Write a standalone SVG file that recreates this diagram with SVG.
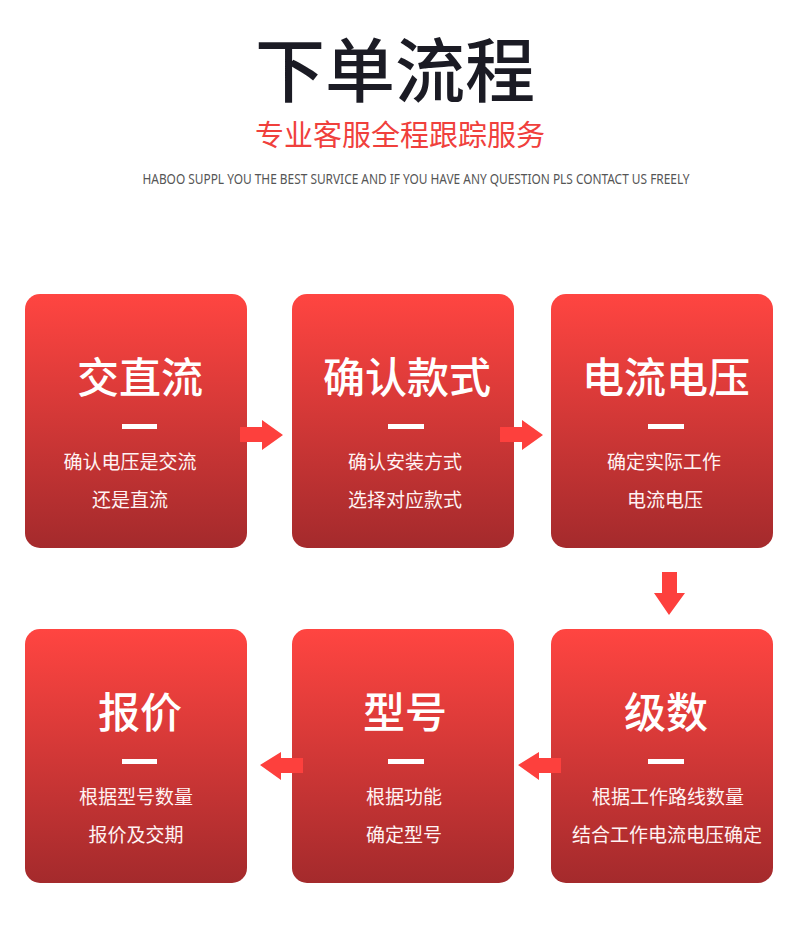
<svg xmlns="http://www.w3.org/2000/svg" width="800" height="947" viewBox="0 0 800 947">
<defs>
<linearGradient id="cardGrad" x1="0" y1="0" x2="0" y2="1">
<stop offset="0" stop-color="#ff4541"/>
<stop offset="1" stop-color="#a42a2c"/>
</linearGradient>
<style>
.card{fill:url(#cardGrad);}
.h{font-family:"Noto Sans CJK SC","Noto Sans",sans-serif;font-size:42px;font-weight:500;fill:#ffffff;text-anchor:middle;}
.s{font-family:"Noto Sans CJK SC","Noto Sans",sans-serif;font-size:19px;fill:#fff3f3;text-anchor:middle;}
.dash{fill:#ffffff;}
.arrow{fill:#fd403d;}
</style>
</defs>
<rect width="800" height="947" fill="#ffffff"/>
<g id="header">
<text x="395" y="97" font-family="'Noto Sans CJK SC',sans-serif" font-size="70" font-weight="500" fill="#1b1b24" text-anchor="middle">下单流程</text>
<text x="400" y="146" font-family="'Noto Sans CJK SC',sans-serif" font-size="29" fill="#f0403c" text-anchor="middle">专业客服全程跟踪服务</text>
<text x="416" y="184" font-family="'Noto Sans','Liberation Sans',sans-serif" font-size="14" fill="#555555" text-anchor="middle" textLength="547" lengthAdjust="spacingAndGlyphs">HABOO SUPPL YOU THE BEST SURVICE AND IF YOU HAVE ANY QUESTION PLS CONTACT US FREELY</text>
</g>
<g id="node1">
<rect class="card" x="25" y="294" width="222" height="254" rx="15"/>
<text class="h" x="140" y="393">交直流</text>
<rect class="dash" x="122" y="424" width="35" height="5"/>
<text class="s" x="130" y="469">确认电压是交流</text>
<text class="s" x="130" y="507">还是直流</text>
</g>
<g id="node2">
<rect class="card" x="292" y="294" width="222" height="254" rx="15"/>
<text class="h" x="407" y="393">确认款式</text>
<rect class="dash" x="388" y="424" width="36" height="5"/>
<text class="s" x="405" y="469">确认安装方式</text>
<text class="s" x="405" y="507">选择对应款式</text>
</g>
<g id="node3">
<rect class="card" x="551" y="294" width="222" height="254" rx="15"/>
<text class="h" x="666" y="393">电流电压</text>
<rect class="dash" x="648" y="424" width="36" height="5"/>
<text class="s" x="664" y="469">确定实际工作</text>
<text class="s" x="665" y="507">电流电压</text>
</g>
<g id="node4">
<rect class="card" x="551" y="629" width="222" height="254" rx="15"/>
<text class="h" x="666" y="728">级数</text>
<rect class="dash" x="648" y="759" width="36" height="5"/>
<text class="s" x="668" y="804">根据工作路线数量</text>
<text class="s" x="667" y="842">结合工作电流电压确定</text>
</g>
<g id="node5">
<rect class="card" x="292" y="629" width="222" height="254" rx="15"/>
<text class="h" x="405" y="728">型号</text>
<rect class="dash" x="388" y="759" width="36" height="5"/>
<text class="s" x="404" y="804">根据功能</text>
<text class="s" x="404" y="842">确定型号</text>
</g>
<g id="node6">
<rect class="card" x="25" y="629" width="222" height="254" rx="15"/>
<text class="h" x="140" y="728">报价</text>
<rect class="dash" x="122" y="759" width="35" height="5"/>
<text class="s" x="136" y="804">根据型号数量</text>
<text class="s" x="136" y="842">报价及交期</text>
</g>
<g id="connectors">
<polygon class="arrow" points="240,427 262,427 262,420 283,435 262,450 262,442 240,442"/>
<polygon class="arrow" points="500,427 522,427 522,420 543,435 522,450 522,442 500,442"/>
<polygon class="arrow" points="662,572 677,572 677,593 685,593 669,615 654,593 662,593"/>
<polygon class="arrow" points="561,758 539,758 539,752 518,765 539,780 539,773 561,773"/>
<polygon class="arrow" points="303,758 281,758 281,752 260,765 281,780 281,773 303,773"/>
</g>
</svg>
